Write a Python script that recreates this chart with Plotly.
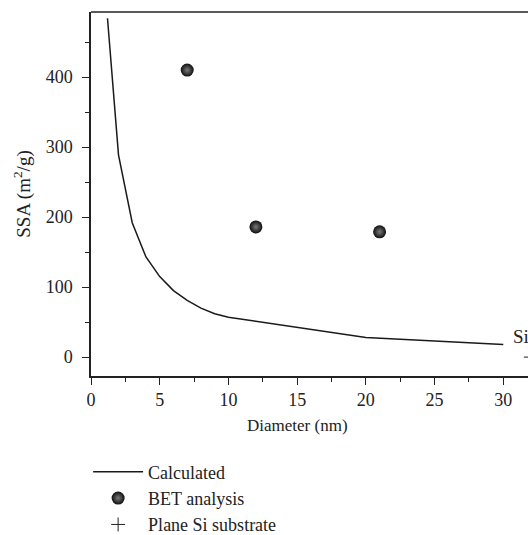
import plotly.graph_objects as go

# Calculated SSA curve
calc_d = [1.2, 2, 3, 4, 5, 6, 7, 8, 9, 10, 20, 30]
calc_ssa = [484, 289, 192, 143, 115, 95, 81, 70, 62, 57, 28, 18]

# BET analysis points
bet_d = [7, 12, 21]
bet_ssa = [410, 186, 179]

# Plane Si substrate
si_d = [32]
si_ssa = [0]

xticks = [0, 5, 10, 15, 20, 25, 30, 35]
yticks = [0, 100, 200, 300, 400]

FONT = "Liberation Serif"
INK = "#222"

fig = go.Figure()
fig.add_trace(go.Scatter(x=calc_d, y=calc_ssa, mode="lines", name="Calculated",
                         line=dict(color="#1a1a1a", width=1.5)))
fig.add_trace(go.Scatter(x=bet_d, y=bet_ssa, mode="markers", name="BET analysis",
                         marker=dict(size=13, color="#0e0e0e", symbol="circle",
                                     gradient=dict(type="radial", color="#7a7a7a"),
                                     line=dict(width=0))))
fig.add_trace(go.Scatter(x=si_d, y=si_ssa, mode="markers", name="Plane Si substrate",
                         marker=dict(size=10, color=INK, symbol="cross-thin",
                                     line=dict(width=1, color=INK))))

fig.add_annotation(x=30.57, y=30, text="Si substrate", showarrow=False, xanchor="left",
                   yanchor="middle", font=dict(family=FONT, size=19, color=INK))
fig.add_annotation(x=15, y=0, xref="x", yref="paper", yshift=-38,
                   text="Diameter (nm)", showarrow=False, yanchor="top",
                   font=dict(family=FONT, size=17, color=INK))

fig.update_xaxes(range=[0, 35], tickvals=xticks, ticks="outside", ticklen=7,
                 tickwidth=1.3, tickcolor=INK, showline=True, linecolor=INK,
                 linewidth=1.5, mirror=False, showgrid=False, zeroline=False,
                 tickfont=dict(family=FONT, size=18, color=INK),
                 minor=dict(ticks="outside", ticklen=4, dtick=2.5, tick0=0,
                            tickcolor=INK, tickwidth=1.3, showgrid=False))
fig.update_yaxes(range=[-27, 493], tickvals=yticks, ticks="outside", ticklen=7,
                 tickwidth=1.3, tickcolor=INK, showline=True, linecolor=INK,
                 linewidth=1.5, showgrid=False, zeroline=False,
                 ticklabelstandoff=6,
                 tickfont=dict(family=FONT, size=18, color=INK),
                 title=dict(text="SSA (m<sup>2</sup>/g)", standoff=10,
                            font=dict(family=FONT, size=19, color=INK)),
                 minor=dict(ticks="outside", ticklen=4, dtick=50, tick0=0,
                            tickcolor=INK, tickwidth=1.3, showgrid=False))

# top border line
fig.add_shape(type="line", xref="paper", yref="paper", x0=0, x1=1, y0=1, y1=1,
              line=dict(color=INK, width=1.5))

# The original figure is cropped on the right: draw it wider than the window
fig.update_layout(
    width=572, height=535,
    margin=dict(l=91, r=0, t=12, b=159, autoexpand=False),
    plot_bgcolor="white", paper_bgcolor="white",
    showlegend=True,
    legend=dict(x=-0.006, y=-0.46, xanchor="left", yanchor="bottom",
                font=dict(family=FONT, size=18, color=INK),
                bgcolor="rgba(0,0,0,0)", itemwidth=50, tracegroupgap=0),
)

fig.write_html(
    "out.html",
    config={"displayModeBar": False},
    post_script="document.body.style.margin='0';document.body.style.overflow='hidden';",
)
